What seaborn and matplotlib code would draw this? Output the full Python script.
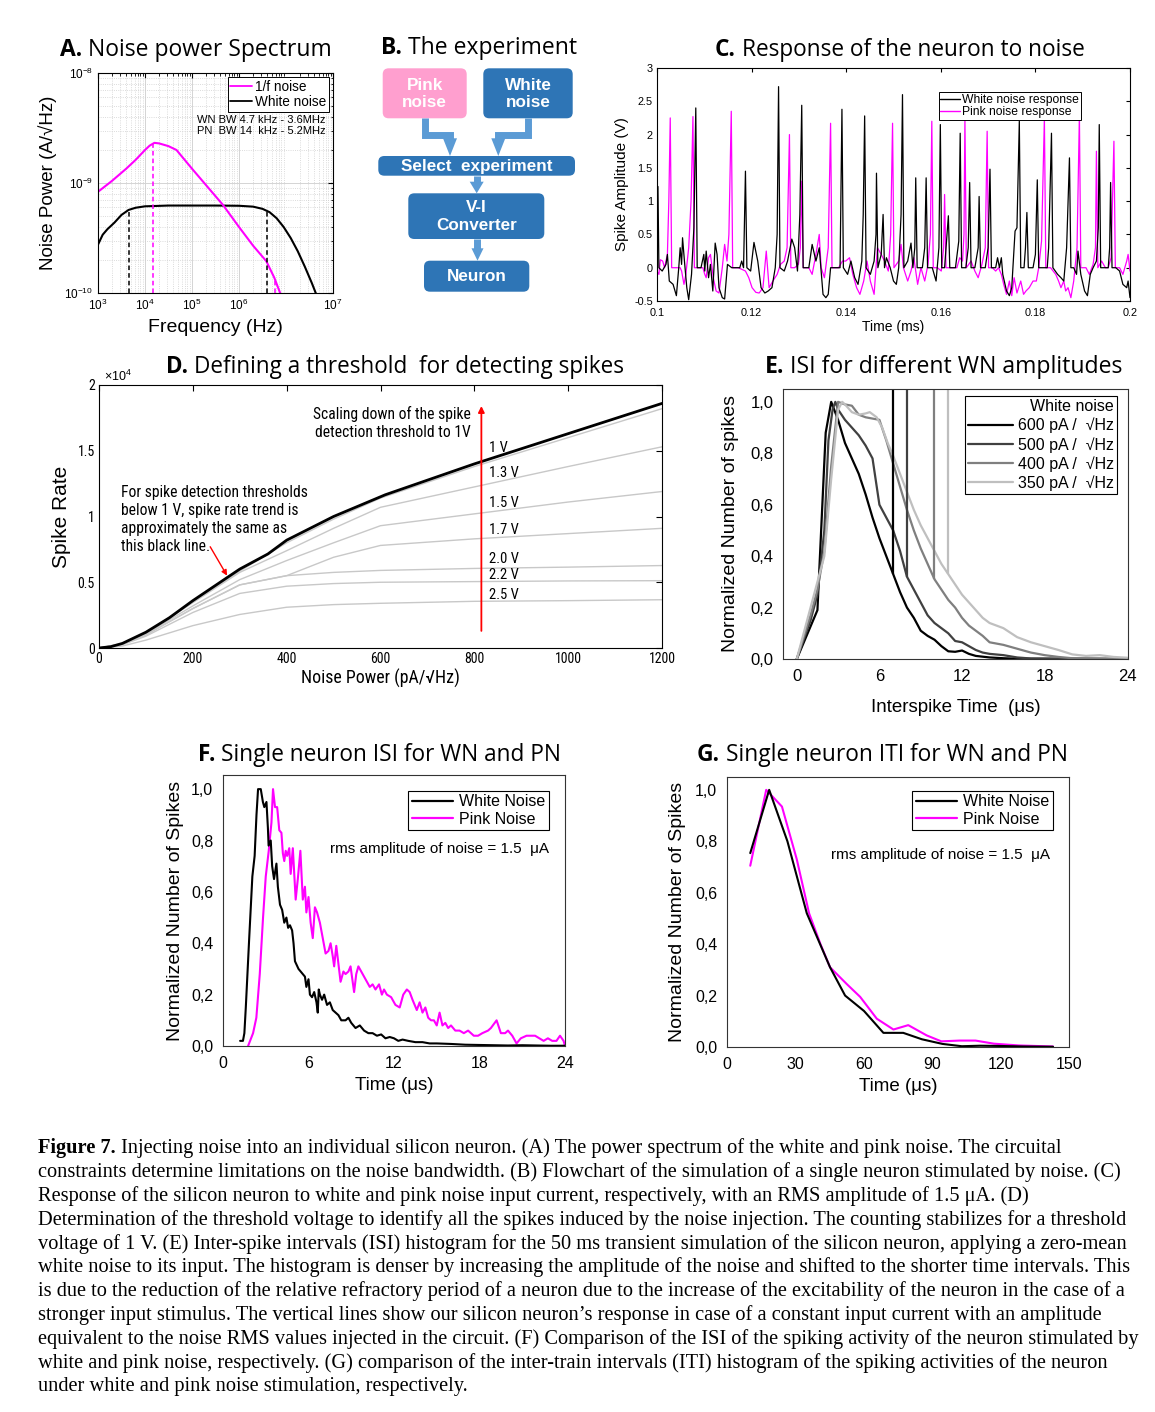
import matplotlib
matplotlib.use('Agg')
import matplotlib.pyplot as plt
import matplotlib.patches as mpatches
from matplotlib.lines import Line2D
from matplotlib import font_manager as fm
from matplotlib.ticker import MultipleLocator, NullFormatter, FuncFormatter
import numpy as np
import pandas as pd
import seaborn as sns

# ------------------------------------------------------------------ data
# A. noise power spectrum (log10 frequency [Hz], log10 power [A/sqrt(Hz)])
a_pn_logf = [3.0, 3.3, 3.6, 3.8, 4.0, 4.1, 4.2, 4.3, 4.5, 4.67, 5.0, 5.3, 5.66, 6.0, 6.3, 6.58, 6.75, 6.92]
a_pn_logp = [-9.08, -8.98, -8.87, -8.79, -8.70, -8.66, -8.635, -8.64, -8.665, -8.70, -8.87, -9.02, -9.20,
             -9.40, -9.57, -9.71, -9.86, -10.05]
a_wn_logf = [3.0, 3.1, 3.2, 3.35, 3.5, 3.65, 3.8, 4.0, 4.5, 5.0, 5.5, 6.0, 6.3, 6.5, 6.65, 6.8, 6.95,
             7.1, 7.25, 7.4, 7.55, 7.66]
a_wn_logp = [-9.56, -9.47, -9.42, -9.36, -9.29, -9.245, -9.225, -9.212, -9.205, -9.205, -9.205, -9.207,
             -9.215, -9.235, -9.265, -9.32, -9.40, -9.50, -9.62, -9.76, -9.91, -10.03]
a_mark_f = [4.6e3, 1.5e4, 3.9e6, 5.8e6]
a_mark_logp = [-9.245, -8.635, -9.26, -9.87]
a_mark_series = ['wn', 'pn', 'wn', 'pn']
a_xtick_pos = [1e3, 1e4, 1e5, 1e6, 1e8]
a_xtick_lab = ['$10^{3}$', '$10^{4}$', '$10^{5}$', '$10^{6}$', '$10^{7}$']
a_ytick_pos = [1e-10, 1e-9, 1e-8]
a_ytick_lab = ['$10^{-10}$', '$10^{-9}$', '$10^{-8}$']

# C. neuron response (time in microseconds, amplitude in V)
c_wn_t_us = [100.0, 100.2, 100.4, 101.1, 101.9, 102.2, 102.6, 103.4, 104.1, 104.6, 104.9, 105.2, 105.4, 105.8,
             106.3, 106.7, 107.3, 107.8, 108.2, 108.5, 109.3, 109.9, 110.1, 110.4, 110.9, 111.3, 111.8, 112.3,
             112.7, 113.1, 113.8, 114.3, 114.9, 115.8, 117.5, 117.9, 118.3, 118.7, 119.0, 119.8, 120.5, 121.3,
             122.0, 122.8, 123.5, 124.3, 125.0, 125.4, 125.7, 126.0, 126.9, 127.6, 128.5, 129.1, 129.7, 130.2,
             130.6, 130.9, 132.1, 132.8, 133.6, 134.3, 135.1, 135.7, 136.2, 136.7, 137.3, 138.7, 138.8, 139.1,
             139.4, 140.3, 141.0, 141.8, 142.5, 143.3, 143.6, 143.9, 144.2, 145.1, 145.9, 146.3, 146.4, 146.7,
             147.4, 147.8, 148.1, 148.5, 149.3, 150.0, 150.6, 151.1, 151.6, 151.9, 152.2, 153.0, 153.7, 154.1,
             154.5, 154.7, 155.0, 155.6, 156.1, 156.6, 156.9, 157.2, 158.2, 159.0, 159.6, 159.9, 160.2, 160.8,
             161.6, 161.9, 163.1, 163.8, 164.1, 164.4, 165.3, 165.8, 166.1, 166.4, 167.2, 167.9, 168.1, 168.4,
             169.4, 170.0, 170.4, 170.7, 171.6, 172.0, 172.4, 172.8, 173.1, 173.9, 174.5, 175.0, 175.4, 175.7,
             176.1, 176.6, 176.9, 177.6, 177.9, 178.2, 178.5, 179.5, 180.0, 180.4, 180.7, 181.7, 182.5, 182.8,
             183.4, 183.7, 184.7, 185.4, 186.0, 186.6, 187.2, 187.5, 188.1, 188.7, 189.0, 189.6, 190.4, 191.0,
             191.6, 192.2, 192.9, 193.3, 193.5, 193.8, 194.6, 195.4, 195.7, 195.9, 196.2, 197.0, 197.8, 198.5,
             199.3, 199.6, 200.0]
c_wn_v = [0.6, 1.22, 0.0, -0.05, 0.05, 0.2, -0.2, -0.25, -0.42, 0.0, 0.3, 0.05, 0.45, 0.1,
          -0.3, -0.48, -0.1, 0.6, 2.4, 0.0, 0.0, 0.2, -0.05, 0.25, -0.15, 0.05, -0.35, 0.37,
          0.2, -0.3, -0.45, -0.47, 0.05, 0.0, 0.0, 0.1, 0.0, 1.45, 0.0, -0.05, 0.38, 0.1,
          -0.3, -0.38, -0.35, -0.3, 0.0, 0.5, 2.72, 0.0, -0.05, 0.1, 0.43, 0.3, -0.05, 0.8,
          2.44, 0.0, 0.0, 0.35, 0.1, 0.3, -0.4, -0.45, -0.4, 0.0, 0.0, 0.0, 0.6, 2.38,
          0.0, -0.1, 0.1, -0.15, -0.25, 0.1, 0.8, 2.28, 0.0, -0.1, 0.1, 0.5, 1.42, 0.0,
          0.2, 0.8, 0.0, 0.15, 0.0, -0.2, -0.25, 0.0, 0.8, 2.6, 0.0, 0.1, 0.37, 0.0,
          0.3, 1.35, 0.0, 0.0, 0.0, 0.3, 1.35, 0.0, 0.0, -0.2, 0.3, 2.15, 0.0, 0.0,
          0.78, 0.0, 0.0, 0.4, 2.02, 0.0, 0.0, 0.3, 1.28, 0.0, 0.0, 0.3, 1.07, 0.0,
          0.0, 0.3, 1.48, 0.0, 0.0, 0.15, 0.0, 0.15, -0.1, -0.35, -0.42, -0.3, 0.2, 0.55,
          0.6, 2.2, 0.0, 0.0, 0.3, 0.83, 0.0, 0.0, 0.2, 1.32, 0.0, 0.0, 0.0, 0.3,
          2.02, 0.0, -0.1, -0.15, -0.2, 0.3, 1.65, 0.0, 0.0, -0.1, 0.25, -0.1, -0.35, -0.42,
          -0.1, 0.0, 0.1, 0.6, 2.15, 0.0, 0.0, 0.0, 0.3, 1.28, 0.0, 0.0, -0.05, -0.25,
          -0.3, -0.2, -0.45]
c_pn_t_us = [100.0, 100.4, 100.7, 101.2, 101.6, 102.2, 102.5, 102.8, 103.1, 104.1, 104.9, 105.2, 105.7, 106.1,
             106.7, 107.2, 107.6, 107.9, 109.0, 109.7, 110.1, 110.4, 110.9, 111.3, 111.9, 112.5, 113.1, 113.8,
             114.3, 114.8, 115.2, 115.7, 116.0, 117.2, 118.7, 119.4, 120.1, 120.9, 121.6, 122.4, 123.1, 123.7,
             124.5, 125.4, 126.1, 126.9, 127.5, 128.0, 128.3, 129.1, 129.9, 130.3, 130.6, 130.9, 132.1, 132.8,
             133.6, 134.3, 134.7, 135.4, 136.2, 136.7, 137.0, 137.7, 138.4, 139.2, 139.9, 140.7, 141.4, 142.2,
             142.9, 143.7, 144.4, 145.1, 145.9, 146.6, 147.4, 148.1, 148.9, 149.4, 149.8, 150.1, 151.1, 151.6,
             152.1, 153.0, 153.7, 154.3, 155.1, 155.8, 156.6, 157.3, 157.8, 158.1, 158.4, 159.3, 160.1, 160.6,
             160.8, 161.1, 161.9, 163.4, 164.0, 164.6, 164.9, 165.1, 165.4, 166.4, 167.2, 167.9, 168.7, 169.4,
             169.8, 170.1, 170.9, 171.6, 172.2, 172.8, 173.3, 173.9, 174.5, 175.0, 175.5, 176.1, 176.9, 177.5,
             178.0, 178.7, 179.5, 180.2, 180.7, 181.3, 181.9, 182.2, 183.2, 184.3, 184.9, 185.4, 186.0, 186.4,
             186.9, 187.5, 188.1, 188.8, 189.3, 189.6, 190.7, 191.4, 192.2, 192.7, 192.9, 193.2, 194.0, 194.8,
             195.4, 196.0, 196.6, 196.9, 197.8, 198.5, 199.3, 199.6, 200.0]
c_pn_v = [-0.05, -0.1, 0.12, 0.1, 0.0, 0.2, 1.0, 2.25, 0.0, 0.0, 0.0, -0.05, -0.25, -0.1,
          0.3, 1.0, 2.27, 0.0, 0.0, 0.0, -0.1, -0.15, 0.15, 0.2, -0.15, -0.35, -0.38, 0.0,
          0.35, 0.1, 0.5, 2.35, 0.0, 0.0, -0.05, -0.15, -0.3, -0.37, -0.38, -0.3, 0.25, -0.3,
          -0.2, -0.1, 0.05, 0.1, 0.3, 2.0, 0.0, 0.0, 0.05, 0.3, 1.3, 0.0, 0.0, -0.1,
          0.2, 0.5, 0.0, -0.15, 0.3, 2.17, 0.0, 0.0, 0.0, 0.1, 0.1, 0.15, -0.1, -0.3,
          -0.4, -0.2, 0.1, -0.2, -0.4, 0.3, 0.2, 0.1, -0.05, 0.5, 2.17, 0.0, 0.1, 0.35,
          0.0, -0.2, -0.05, 0.15, -0.25, 0.0, -0.2, 0.05, 0.5, 2.2, 0.0, 0.0, -0.05, 0.3,
          1.1, 0.0, 0.0, 0.0, 0.15, 0.1, 0.5, 2.25, 0.0, 0.1, -0.05, -0.15, 0.05, 0.3,
          2.05, 0.0, 0.0, -0.05, 0.0, -0.1, -0.25, -0.4, -0.2, -0.42, -0.15, -0.38, -0.2, -0.4,
          -0.35, -0.3, -0.2, -0.2, 0.0, 0.4, 2.25, 0.0, 0.0, -0.1, -0.2, -0.3, -0.2, -0.35,
          -0.3, -0.45, -0.2, 0.3, 2.3, 0.0, 0.0, -0.1, 0.05, 0.3, 1.75, 0.0, 0.1, 0.0,
          0.0, 0.15, 1.9, 0.0, 0.0, -0.1, 0.1, 0.2, -0.05]
c_xticks = [0.1, 0.12, 0.14, 0.16, 0.18, 0.2]
c_xtick_lab = ['0.1', '0.12', '0.14', '0.16', '0.18', '0.2']
c_yticks = [-0.5, 0, 0.5, 1, 1.5, 2, 2.5, 3]
c_ytick_lab = ['-0.5', '0', '0.5', '1', '1.5', '2', '2.5', '3']

# D. spike rate (x10^4) versus noise power
d_top_x = [0, 25, 50, 100, 150, 200, 250, 300, 360, 400, 500, 610, 800, 1000, 1200]
d_top_y = [0, 0.01, 0.035, 0.12, 0.23, 0.36, 0.48, 0.60, 0.715, 0.82, 1.0, 1.165, 1.40, 1.63, 1.86]
d_x = [0, 50, 100, 200, 300, 400, 500, 600, 800, 1000, 1200]
d_thr = ['1 V', '1.3 V', '1.5 V', '1.7 V', '2.0 V', '2.2 V', '2.5 V']
d_rates = [
    [0, 0.035, 0.115, 0.35, 0.585, 0.80, 0.98, 1.14, 1.38, 1.60, 1.82],
    [0, 0.03, 0.112, 0.345, 0.575, 0.74, 0.91, 1.07, 1.225, 1.38, 1.53],
    [0, 0.03, 0.108, 0.32, 0.52, 0.665, 0.80, 0.93, 1.02, 1.11, 1.19],
    [0, 0.028, 0.10, 0.30, 0.48, 0.55, 0.69, 0.78, 0.83, 0.87, 0.91],
    [0, 0.028, 0.10, 0.30, 0.48, 0.55, 0.575, 0.59, 0.605, 0.615, 0.627],
    [0, 0.025, 0.09, 0.27, 0.415, 0.47, 0.49, 0.50, 0.505, 0.51, 0.512],
    [0, 0.015, 0.06, 0.17, 0.255, 0.31, 0.33, 0.34, 0.355, 0.36, 0.367],
]
d_label_y = [1.52, 1.33, 1.10, 0.90, 0.675, 0.555, 0.40]

# E. ISI for different WN amplitudes
e_labels = ['600 pA /  \u221aHz', '500 pA /  \u221aHz', '400 pA /  \u221aHz', '350 pA /  \u221aHz']
e_x = [
    [0, 1.5, 2.1, 2.5, 3.0, 3.5, 4.0, 4.5, 5.0, 5.5, 6.0, 6.5, 7.0, 7.5, 8.0, 8.5, 9.0, 9.5, 10.0, 10.5,
     11.0, 11.5, 12.0, 12.5, 13.0, 14.0, 15.0, 16.0, 24.0],
    [0, 1.0, 1.5, 2.0, 2.3, 2.6, 2.8, 3.0, 3.5, 4.0, 4.5, 5.0, 5.5, 6.0, 6.5, 7.0, 7.5, 8.0, 8.5, 9.0,
     9.5, 10.0, 10.5, 11.0, 11.5, 12.0, 12.5, 13.0, 13.5, 14.0, 15.0, 16.0, 17.0, 24.0],
    [0, 1.0, 1.5, 2.0, 2.5, 3.0, 3.5, 4.0, 4.5, 5.0, 5.5, 6.0, 6.5, 7.0, 7.5, 8.0, 8.5, 9.0, 9.5, 10.0,
     10.5, 11.0, 11.5, 12.0, 12.5, 13.0, 13.5, 14.0, 14.5, 15.0, 16.0, 17.0, 18.0, 19.0, 20.0, 24.0],
    [0, 1.0, 1.5, 2.0, 2.5, 3.0, 3.3, 3.5, 4.0, 4.5, 5.0, 5.3, 5.8, 6.2, 6.6, 7.0, 7.5, 8.0, 8.5, 9.0,
     9.5, 10.0, 10.5, 11.0, 11.5, 12.0, 12.5, 13.0, 13.5, 14.0, 15.0, 16.0, 17.0, 18.0, 19.0, 20.0, 21.0,
     22.0, 23.0, 24.0],
]
e_y = [
    [0, 0.19, 0.88, 1.0, 0.93, 0.84, 0.78, 0.72, 0.64, 0.55, 0.47, 0.40, 0.33, 0.26, 0.20, 0.16, 0.11, 0.09,
     0.075, 0.05, 0.03, 0.028, 0.033, 0.02, 0.012, 0.006, 0.003, 0.001, 0.0],
    [0, 0.15, 0.25, 0.5, 0.85, 0.97, 1.0, 0.97, 0.93, 0.90, 0.87, 0.83, 0.78, 0.60, 0.55, 0.50, 0.42, 0.32,
     0.27, 0.22, 0.17, 0.14, 0.12, 0.10, 0.07, 0.065, 0.05, 0.035, 0.025, 0.02, 0.015, 0.006, 0.002, 0.0],
    [0, 0.17, 0.27, 0.42, 0.75, 1.0, 0.99, 0.985, 0.95, 0.94, 0.935, 0.93, 0.85, 0.76, 0.67, 0.58, 0.50, 0.43,
     0.37, 0.31, 0.27, 0.23, 0.20, 0.16, 0.13, 0.11, 0.09, 0.065, 0.06, 0.055, 0.04, 0.025, 0.015, 0.008,
     0.003, 0.0],
    [0, 0.2, 0.3, 0.4, 0.7, 0.97, 1.0, 0.99, 0.96, 0.95, 0.955, 0.96, 0.94, 0.90, 0.84, 0.79, 0.72, 0.65,
     0.58, 0.52, 0.47, 0.42, 0.37, 0.33, 0.29, 0.25, 0.22, 0.19, 0.16, 0.14, 0.12, 0.085, 0.065, 0.05, 0.035,
     0.018, 0.012, 0.015, 0.008, 0.005],
]
e_const_x = [7.0, 8.0, 10.0, 11.0]
e_const_y = [0.33, 0.32, 0.31, 0.33]

# F. single neuron ISI (time in us, normalized count)
f_wn_x = [1.2, 1.4, 1.5, 1.6, 1.83, 2.06, 2.22, 2.35, 2.46, 2.65, 2.8, 2.9, 3.05, 3.15, 3.2, 3.35, 3.45, 3.58,
          3.75, 3.85, 4.0, 4.15, 4.3, 4.45, 4.57, 4.7, 4.85, 4.95, 5.05, 5.3, 5.6, 5.75, 5.85, 6.0, 6.1, 6.25,
          6.4, 6.56, 6.65, 6.72, 6.8, 6.95, 7.1, 7.3, 7.5, 7.7, 7.9, 8.1, 8.3, 8.6, 8.8, 9.0, 9.3, 9.6, 9.9,
          10.2, 10.5, 10.8, 11.1, 11.4, 11.7, 12.0, 12.3, 12.6, 13.0, 13.5, 14.0, 14.5, 15.0, 16.0, 17.0,
          18.0, 19.0, 20.0, 21.0, 22.0, 23.0, 24.0]
f_wn_y = [0.02, 0.02, 0.05, 0.15, 0.41, 0.66, 0.74, 0.9, 1.0, 1.0, 0.95, 0.93, 0.95, 0.85, 0.78, 0.80, 0.70,
          0.65, 0.71, 0.62, 0.55, 0.53, 0.48, 0.50, 0.46, 0.47, 0.45, 0.40, 0.33, 0.30, 0.28, 0.27, 0.23,
          0.26, 0.20, 0.19, 0.21, 0.17, 0.13, 0.22, 0.20, 0.18, 0.20, 0.16, 0.17, 0.14, 0.13, 0.12, 0.10, 0.10,
          0.11, 0.09, 0.07, 0.08, 0.06, 0.05, 0.05, 0.04, 0.045, 0.03, 0.035, 0.03, 0.02, 0.025, 0.02, 0.015,
          0.015, 0.01, 0.01, 0.008, 0.005, 0.004, 0.003, 0.002, 0.003, 0.002, 0.001, 0.001]
f_pn_x = [1.76, 2.11, 2.34, 2.58, 2.81, 3.0, 3.21, 3.4, 3.51, 3.65, 3.8, 3.95, 4.1, 4.2, 4.3, 4.4, 4.5, 4.65,
          4.75, 4.9, 5.1, 5.25, 5.43, 5.6, 5.75, 5.85, 6.0, 6.15, 6.3, 6.45, 6.6, 6.8, 7.0, 7.2, 7.4, 7.55,
          7.7, 7.8, 7.95, 8.1, 8.25, 8.45, 8.6, 8.8, 8.95, 9.2, 9.35, 9.5, 9.7, 9.9, 10.1, 10.3, 10.5, 10.7,
          10.95, 11.15, 11.3, 11.5, 11.8, 12.1, 12.4, 12.65, 12.9, 13.1, 13.3, 13.6, 13.8, 14.0, 14.2, 14.4,
          14.6, 14.8, 15.0, 15.2, 15.4, 15.6, 15.8, 16.0, 16.3, 16.6, 16.9, 17.2, 17.4, 17.6, 17.9, 18.2,
          18.6, 18.8, 19.2, 19.5, 19.8, 20.0, 20.3, 20.6, 20.9, 21.3, 21.6, 21.9, 22.2, 22.5, 22.8, 23.1,
          23.4, 23.65, 23.9, 24.0]
f_pn_y = [0.0, 0.05, 0.11, 0.28, 0.5, 0.66, 0.76, 0.87, 1.0, 0.93, 0.93, 0.84, 0.83, 0.75, 0.72, 0.76, 0.74,
          0.77, 0.67, 0.77, 0.57, 0.65, 0.76, 0.57, 0.62, 0.52, 0.58, 0.48, 0.42, 0.54, 0.52, 0.48, 0.42, 0.36,
          0.37, 0.40, 0.35, 0.31, 0.39, 0.32, 0.25, 0.29, 0.28, 0.29, 0.31, 0.21, 0.28, 0.31, 0.29, 0.27, 0.25,
          0.23, 0.24, 0.22, 0.24, 0.20, 0.22, 0.20, 0.19, 0.16, 0.15, 0.20, 0.22, 0.21, 0.18, 0.14, 0.17, 0.13,
          0.15, 0.11, 0.10, 0.10, 0.08, 0.13, 0.08, 0.09, 0.07, 0.08, 0.06, 0.06, 0.05, 0.06, 0.05, 0.04, 0.04,
          0.05, 0.06, 0.07, 0.10, 0.05, 0.05, 0.06, 0.04, 0.01, 0.03, 0.04, 0.04, 0.04, 0.03, 0.02, 0.03, 0.02,
          0.02, 0.04, 0.02, 0.0]

# G. single neuron ITI
g_wn_x = [10.2, 18.5, 26.5, 35.0, 45.2, 51.8, 60.1, 68.6, 77.3, 85.5, 94.5, 103, 111, 120, 130, 143]
g_wn_y = [0.754, 1.0, 0.80, 0.52, 0.31, 0.20, 0.14, 0.055, 0.055, 0.03, 0.012, 0.003, 0.005, 0.004, 0.002, 0.001]
g_pn_x = [10.2, 17.2, 24.1, 30.6, 36.0, 41.0, 45.2, 52.5, 58.4, 65.7, 73.0, 79.5, 87.6, 94.0, 102, 109, 117, 128, 143]
g_pn_y = [0.705, 1.0, 0.935, 0.73, 0.52, 0.40, 0.31, 0.245, 0.195, 0.11, 0.068, 0.085, 0.045, 0.022, 0.025,
          0.025, 0.013, 0.006, 0.002]

caption_lines = [
    "Injecting noise into an individual silicon neuron. (A) The power spectrum of the white and pink noise. The circuital",
    "constraints determine limitations on the noise bandwidth. (B) Flowchart of the simulation of a single neuron stimulated by noise. (C)",
    "Response of the silicon neuron to white and pink noise input current, respectively, with an RMS amplitude of 1.5 \u03bcA. (D)",
    "Determination of the threshold voltage to identify all the spikes induced by the noise injection. The counting stabilizes for a threshold",
    "voltage of 1 V. (E) Inter-spike intervals (ISI) histogram for the 50 ms transient simulation of the silicon neuron, applying a zero-mean",
    "white noise to its input. The histogram is denser by increasing the amplitude of the noise and shifted to the shorter time intervals. This",
    "is due to the reduction of the relative refractory period of a neuron due to the increase of the excitability of the neuron in the case of a",
    "stronger input stimulus. The vertical lines show our silicon neuron\u2019s response in case of a constant input current with an amplitude",
    "equivalent to the noise RMS values injected in the circuit. (F) Comparison of the ISI of the spiking activity of the neuron stimulated by",
    "white and pink noise, respectively. (G) comparison of the inter-train intervals (ITI) histogram of the spiking activities of the neuron",
    "under white and pink noise stimulation, respectively.",
]

# ------------------------------------------------------------------ style
sns.set_style('white')
plt.rcParams.update({
    'text.color': 'black', 'axes.labelcolor': 'black', 'xtick.color': 'black', 'ytick.color': 'black',
    'axes.edgecolor': 'black', 'axes.linewidth': 0.8,
    'mathtext.fontset': 'custom', 'mathtext.rm': 'Liberation Sans',
    'mathtext.it': 'Liberation Sans:italic', 'mathtext.bf': 'Liberation Sans:bold',
    'legend.frameon': True,
})
plt.rcParams['font.family'] = ['Liberation Sans', 'DejaVu Sans']

_names = {f.name for f in fm.fontManager.ttflist}
NARROW = 'Liberation Sans'
for cand in ['Liberation Sans Narrow', 'Arial Narrow', 'Roboto Condensed', 'Open Sans Condensed',
             'Noto Sans Condensed', 'Roboto']:
    if cand in _names:
        NARROW = cand
        break
TITLE_FONT = 'Open Sans' if 'Open Sans' in _names else 'DejaVu Sans'
SERIF = 'Liberation Serif' if 'Liberation Serif' in _names else 'DejaVu Serif'
MAG = '#ff00ff'

W, H = 1155, 1412
fig = plt.figure(figsize=(W / 100, H / 100), dpi=100)
renderer = fig.canvas.get_renderer()


def rect(x0, y0, x1, y1):
    return [x0 / W, 1 - y1 / H, (x1 - x0) / W, (y1 - y0) / H]


def line(ax, x, y, color, lw, **kw):
    sns.lineplot(x=np.asarray(x, float), y=np.asarray(y, float), ax=ax, color=color, linewidth=lw,
                 estimator=None, sort=False, legend=False, errorbar=None, **kw)


def fit_width(txt, target_px):
    w = txt.get_window_extent(renderer).width
    txt.set_fontsize(txt.get_fontsize() * target_px / w)


def two_part(x0, yc, bold, rest, family, fs, x1=None):
    tb = fig.text(x0 / W, 1 - yc / H, bold, fontsize=fs, fontweight='bold', family=family,
                  ha='left', va='center')
    tr = fig.text(x0 / W, 1 - yc / H, rest, fontsize=fs, family=family, ha='left', va='center')
    if x1 is not None:
        wb = tb.get_window_extent(renderer).width
        wr = tr.get_window_extent(renderer).width
        sp = 0.26 * fs * 100 / 72
        fs = fs * (x1 - x0) / (wb + wr + sp)
        tb.set_fontsize(fs)
        tr.set_fontsize(fs)
    wb = tb.get_window_extent(renderer).width
    tr.set_x((x0 + wb + 0.26 * fs * 100 / 72) / W)
    return fs


def labels(ax, xl, yl, xfs, yfs, xpos, ypos, xfam=None, yfam=None):
    ax.set_xlabel(xl, fontsize=xfs, va='center', family=xfam or plt.rcParams['font.family'])
    ax.set_ylabel(yl, fontsize=yfs, va='center', family=yfam or plt.rcParams['font.family'])
    ax.xaxis.set_label_coords(0.5, xpos)
    ax.yaxis.set_label_coords(ypos, 0.5)


# ------------------------------------------------------------------ A
axA = fig.add_axes(rect(98, 73, 333, 293))
line(axA, 10 ** np.array(a_wn_logf), 10 ** np.array(a_wn_logp), 'black', 1.5)
line(axA, 10 ** np.array(a_pn_logf), 10 ** np.array(a_pn_logp), MAG, 1.5)
axA.set_xscale('log')
axA.set_yscale('log')
axA.set_xlim(1e3, 1e8)
axA.set_ylim(1e-10, 1e-8)
for f, lp, s in zip(a_mark_f, a_mark_logp, a_mark_series):
    axA.vlines(f, 1e-10, 10 ** lp, colors=MAG if s == 'pn' else 'black', linestyles=(0, (3, 2)), lw=1.1)
axA.set_xticks(a_xtick_pos, a_xtick_lab)
axA.set_yticks(a_ytick_pos, a_ytick_lab)
axA.xaxis.set_minor_formatter(NullFormatter())
axA.yaxis.set_minor_formatter(NullFormatter())
axA.grid(True, which='major', color='#d4d4d4', lw=0.7, ls='-')
axA.grid(True, which='minor', color='#cfcfcf', lw=0.6, ls=':')
axA.set_axisbelow(True)
axA.tick_params(which='both', direction='in', top=True, right=True, labelsize=8.5)
axA.tick_params(which='major', length=3.5)
axA.tick_params(which='minor', length=1.8)
legA = axA.legend([Line2D([], [], color=MAG, lw=1.3), Line2D([], [], color='black', lw=1.3)],
                  ['1/f noise', 'White noise'], loc='upper right', fontsize=9.8, fancybox=False,
                  edgecolor='black', borderpad=0.2, labelspacing=0.1, handlelength=1.6,
                  handletextpad=0.2, borderaxespad=0.3, framealpha=1)
legA.get_frame().set_linewidth(0.7)
axA.text(0.97, 0.81, 'WN BW 4.7 kHz - 3.6MHz\nPN  BW 14  kHz - 5.2MHz', transform=axA.transAxes,
         ha='right', va='top', fontsize=8, linespacing=1.1)
labels(axA, 'Frequency (Hz)', 'Noise Power (A/\u221aHz)', 14, 13.5, -0.155, -0.213)
two_part(60, 50, 'A.', 'Noise power Spectrum', TITLE_FONT, 16, x1=332)

# ------------------------------------------------------------------ B (flowchart)
axB = fig.add_axes(rect(370, 60, 590, 300))
axB.set_xlim(370, 590)
axB.set_ylim(300, 60)
axB.axis('off')
BLUE, PINK, ARROW = '#2e75b6', '#ff9fcf', '#5b9bd5'
boxes = [((382.7, 68.3, 466.7, 118.3), PINK, 'Pink\nnoise'),
         ((483.3, 68.3, 572.7, 118.3), BLUE, 'White\nnoise'),
         ((378.3, 156.0, 575.0, 175.7), BLUE, 'Select  experiment'),
         ((408.3, 193.3, 544.3, 239.0), BLUE, 'V-I\nConverter'),
         ((424.0, 260.7, 529.3, 291.7), BLUE, 'Neuron')]
for (x0, y0, x1, y1), col, txt in boxes:
    axB.add_patch(mpatches.FancyBboxPatch((x0, y0), x1 - x0, y1 - y0,
                                          boxstyle='round,pad=0,rounding_size=6', fc=col, ec='none'))
    axB.text((x0 + x1) / 2, (y0 + y1) / 2 + 0.5, txt, color='white', fontweight='bold', fontsize=12.3,
             ha='center', va='center', linespacing=1.2)
shafts = [([425, 425, 450, 450], [118.3, 135, 135, 139]),
          ([528.3, 528.3, 498.3, 498.3], [118.3, 135, 135, 139]),
          ([476.7, 476.7], [175.7, 183]),
          ([476.7, 476.7], [239, 249])]
for xs, ys in shafts:
    axB.plot(xs, ys, color=ARROW, lw=5, solid_joinstyle='miter', solid_capstyle='butt')
heads = [(450, 138.3, 156.0, 14), (498.3, 138.3, 156.0, 14), (476.7, 181.7, 193.3, 14), (477.5, 248.3, 260.7, 12)]
for xc, ya, yb, w in heads:
    axB.add_patch(mpatches.Polygon([(xc - w / 2, ya), (xc + w / 2, ya), (xc, yb)], closed=True,
                                   fc=ARROW, ec='none'))
two_part(381, 48, 'B.', 'The experiment', TITLE_FONT, 16, x1=577)

# ------------------------------------------------------------------ C
axC = fig.add_axes(rect(657, 68, 1130, 301))
line(axC, np.array(c_pn_t_us) / 1000, c_pn_v, MAG, 0.9)
line(axC, np.array(c_wn_t_us) / 1000, c_wn_v, 'black', 0.9)
axC.set_xlim(0.1, 0.2)
axC.set_ylim(-0.5, 3)
axC.set_xticks(c_xticks, c_xtick_lab)
axC.set_yticks(c_yticks, c_ytick_lab)
axC.tick_params(direction='in', top=True, right=True, labelsize=7.8, length=3)
axC.tick_params(axis='x', pad=5)
axC.tick_params(axis='y', pad=3)
legC = axC.legend([Line2D([], [], color='black', lw=1.0), Line2D([], [], color=MAG, lw=1.0)],
                  ['White noise response', 'Pink noise response'], loc='upper right',
                  bbox_to_anchor=(0.896, 0.897), fontsize=8.7, fancybox=False, edgecolor='black',
                  borderpad=0.15, labelspacing=0.05, handlelength=1.6, handletextpad=0.2,
                  borderaxespad=0, framealpha=1)
legC.get_frame().set_linewidth(0.7)
labels(axC, 'Time (ms)', 'Spike Amplitude (V)', 10, 11, -0.11, -0.075)
two_part(715, 50, 'C.', 'Response of the neuron to noise', TITLE_FONT, 16, x1=1086)

# ------------------------------------------------------------------ D
axD = fig.add_axes(rect(99, 385, 662, 648))
dfD = pd.DataFrame({'power': np.tile(d_x, len(d_thr)),
                    'rate': np.concatenate([np.array(r) * 1e4 for r in d_rates]),
                    'thr': np.repeat(d_thr, len(d_x))})
sns.lineplot(data=dfD, x='power', y='rate', hue='thr', palette={t: '#c8c8c8' for t in d_thr},
             estimator=None, sort=False, legend=False, ax=axD, linewidth=1.0)
line(axD, d_top_x, np.array(d_top_y) * 1e4, 'black', 2.0)
axD.set_xlim(0, 1200)
axD.set_ylim(0, 2e4)
axD.set_xticks([0, 200, 400, 600, 800, 1000, 1200])
axD.set_yticks([0, 5000, 10000, 15000, 20000], ['0', '0.5', '1', '1.5', '2'])
axD.tick_params(direction='in', top=True, right=True, labelsize=10, length=4, pad=3)
for t in axD.get_xticklabels() + axD.get_yticklabels():
    t.set_family(NARROW)
axD.text(0.008, 1.003, r'$\times10^{4}$', transform=axD.transAxes, fontsize=9, ha='left', va='bottom')
for lab, yv in zip(d_thr, d_label_y):
    axD.text(832, yv * 1e4, lab, fontsize=10.5, family=NARROW, ha='left', va='center')
axD.annotate('', xy=(815, 1.84e4), xytext=(815, 0.13e4),
             arrowprops=dict(arrowstyle='-|>', color='red', lw=1.3, mutation_scale=9, shrinkA=0, shrinkB=0))
tD1 = axD.text(792, 1.71e4, 'Scaling down of the spike\ndetection threshold to 1V', fontsize=12,
               family=NARROW, ha='right', va='center', linespacing=1.2)
fit_width(tD1, 158)
tD2 = axD.text(47, 0.975e4, 'For spike detection thresholds\nbelow 1 V, spike rate trend is\n'
               'approximately the same as\nthis black line.', fontsize=12, family=NARROW,
               ha='left', va='center', linespacing=1.25)
fit_width(tD2, 186)
axD.annotate('', xy=(273, 0.55e4), xytext=(237, 0.77e4),
             arrowprops=dict(arrowstyle='-|>', color='red', lw=1.0, mutation_scale=8, shrinkA=0, shrinkB=0))
labels(axD, 'Noise Power (pA/\u221aHz)', 'Spike Rate', 14, 15, -0.114, -0.066,
       xfam=[NARROW, 'DejaVu Sans'])
fit_width(axD.xaxis.label, 160)
two_part(166, 367, 'D.', 'Defining a threshold  for detecting spikes', TITLE_FONT, 16, x1=625)


def origin_style(ax, fs):
    ax.tick_params(which='both', direction='out', top=False, right=False, labelsize=fs)
    ax.tick_params(which='major', length=5, width=0.8, pad=2)
    ax.tick_params(which='minor', length=3, width=0.8)
    ax.yaxis.set_major_locator(MultipleLocator(0.2))
    ax.yaxis.set_minor_locator(MultipleLocator(0.1))
    ax.yaxis.set_major_formatter(FuncFormatter(lambda v, p: f'{v:.1f}'.replace('.', ',')))
    for s in ax.spines.values():
        s.set_color('#333333')


# ------------------------------------------------------------------ E
axE = fig.add_axes(rect(783, 389, 1128, 659))
e_cols = ['#000000', '#404040', '#7f7f7f', '#bfbfbf']
for xs, ys, c in zip(e_x, e_y, e_cols):
    line(axE, xs, ys, c, 1.6)
for xv, yv, c in zip(e_const_x, e_const_y, e_cols):
    axE.vlines(xv, yv, 1.2, colors=c, lw=1.6)
axE.set_xlim(-1.0, 24.05)
axE.set_ylim(0, 1.05)
axE.xaxis.set_major_locator(MultipleLocator(6))
axE.xaxis.set_minor_locator(MultipleLocator(3))
origin_style(axE, 12)
legE = axE.legend([Line2D([], [], color=c, lw=1.6) for c in e_cols], e_labels, title='White noise',
                  loc='upper right', bbox_to_anchor=(0.968, 0.974), fontsize=11.5, title_fontsize=11.5,
                  fancybox=False, edgecolor='black', borderpad=0.2, labelspacing=0.22, handlelength=2.8,
                  handletextpad=0.3, borderaxespad=0, framealpha=1, alignment='right')
legE.get_frame().set_linewidth(0.8)
labels(axE, 'Interspike Time  (\u03bcs)', 'Normalized Number of spikes', 13.5, 14, -0.178, -0.151)
two_part(765, 367, 'E.', 'ISI for different WN amplitudes', TITLE_FONT, 16, x1=1122)

# ------------------------------------------------------------------ F
axF = fig.add_axes(rect(223, 775, 565, 1046))
line(axF, f_pn_x, f_pn_y, MAG, 1.5)
line(axF, f_wn_x, f_wn_y, 'black', 1.5)
axF.set_xlim(0, 24)
axF.set_ylim(0, 1.055)
axF.xaxis.set_major_locator(MultipleLocator(6))
axF.xaxis.set_minor_locator(MultipleLocator(3))
origin_style(axF, 11.5)
legF = axF.legend([Line2D([], [], color='black', lw=1.6), Line2D([], [], color=MAG, lw=1.6)],
                  ['White Noise', 'Pink Noise'], loc='upper right', bbox_to_anchor=(0.953, 0.941),
                  fontsize=11.5, fancybox=False, edgecolor='black', borderpad=0.2, labelspacing=0.15,
                  handlelength=2.6, handletextpad=0.4, borderaxespad=0, framealpha=1)
legF.get_frame().set_linewidth(0.8)
axF.text(0.953, 0.727, 'rms amplitude of noise = 1.5  \u03bcA', transform=axF.transAxes, ha='right',
         va='center', fontsize=11)
labels(axF, 'Time (\u03bcs)', 'Normalized Number of Spikes', 13.5, 14, -0.144, -0.14)
two_part(198, 755, 'F.', 'Single neuron ISI for WN and PN', TITLE_FONT, 16, x1=562)

# ------------------------------------------------------------------ G
axG = fig.add_axes(rect(727, 777, 1069, 1047))
line(axG, g_pn_x, g_pn_y, MAG, 1.5)
line(axG, g_wn_x, g_wn_y, 'black', 1.5)
axG.set_xlim(0, 150)
axG.set_ylim(0, 1.05)
axG.xaxis.set_major_locator(MultipleLocator(30))
axG.xaxis.set_minor_locator(MultipleLocator(15))
origin_style(axG, 11.5)
legG = axG.legend([Line2D([], [], color='black', lw=1.6), Line2D([], [], color=MAG, lw=1.6)],
                  ['White Noise', 'Pink Noise'], loc='upper right', bbox_to_anchor=(0.953, 0.948),
                  fontsize=11.5, fancybox=False, edgecolor='black', borderpad=0.2, labelspacing=0.15,
                  handlelength=2.6, handletextpad=0.4, borderaxespad=0, framealpha=1)
legG.get_frame().set_linewidth(0.8)
axG.text(0.944, 0.711, 'rms amplitude of noise = 1.5  \u03bcA', transform=axG.transAxes, ha='right',
         va='center', fontsize=11)
labels(axG, 'Time (\u03bcs)', 'Normalized Number of Spikes', 13.5, 14, -0.148, -0.146)
two_part(697, 755, 'G.', 'Single neuron ITI for WN and PN', TITLE_FONT, 16, x1=1067)

# ------------------------------------------------------------------ caption
probe = fig.text(0, 0, caption_lines[3], fontsize=14, family=SERIF)
cap_fs = 14 * (1130 - 38) / probe.get_window_extent(renderer).width
probe.remove()
y0, dy = 1148, 23.9
for i, ln in enumerate(caption_lines):
    yc = y0 + i * dy
    if i == 0:
        two_part(38, yc, 'Figure 7.', ln, SERIF, cap_fs)
    else:
        fig.text(38 / W, 1 - yc / H, ln, fontsize=cap_fs, family=SERIF, ha='left', va='center')

fig.savefig('out.png', dpi=100)
